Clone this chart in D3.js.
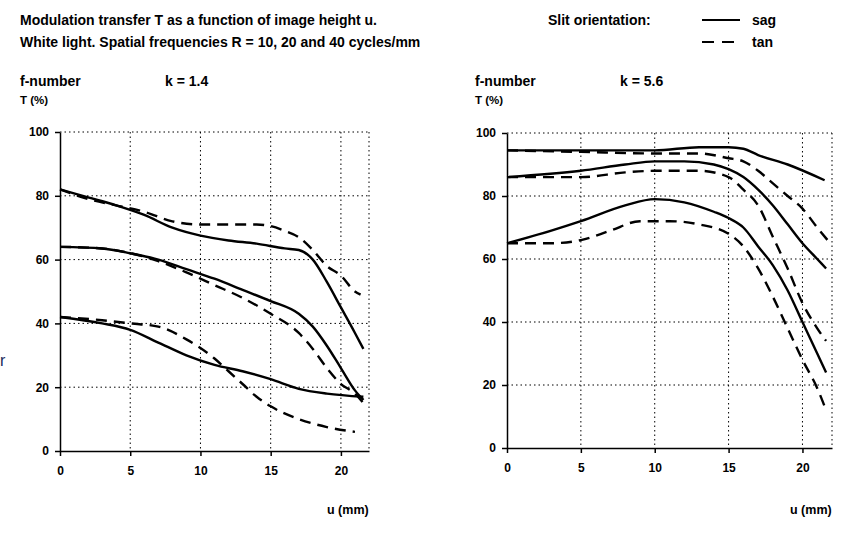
<!DOCTYPE html>
<html><head><meta charset="utf-8">
<script src="https://cdn.jsdelivr.net/npm/d3@7"></script>
<style>
body{margin:0;background:#fff;font-family:Arial,"Liberation Sans",sans-serif;}
text{font-family:Arial,"Liberation Sans",sans-serif;font-weight:bold;fill:#000;}
</style></head><body>
<script>
// u (mm) sample positions and T (%) values
const xTicks = [0, 5, 10, 15, 20];
const yTicks = [0, 20, 40, 60, 80, 100];

const k14 = {
  sag10: [[0,82],[2,79.5],[4,77],[6,74],[8,70],[10,67.5],[12,66],[14,65],[16,63.5],[17,63],[18,60],[19,53],[20,45],[21,37],[21.6,32]],
  tan10: [[0,82],[2,79],[4,77],[6,75],[8,72],[10,71],[12,71],[14,71],[15,70.5],[16,69],[17,67],[18,63],[19,58],[20,55],[21,50],[21.4,49]],
  sag20: [[0,64],[3,63.5],[5,62],[7,60],[9,57],[11,54],[13,50.5],[15,47],[17,43],[18,39],[19,33],[20,26],[21,19],[21.6,16]],
  tan20: [[0,64],[3,63.5],[5,62],[7,59.5],[9,56],[11,52],[13,48],[15,43],[17,37],[18,32],[19,26],[20,21],[21,18],[21.6,15]],
  sag40: [[0,42],[3,40],[5,38],[7,34],[9,30],[11,27],[13,25],[15,22.5],[17,19.5],[19,18],[21.6,17]],
  tan40: [[0,42],[3,41],[5,40],[7,39],[9,35],[11,29],[12,25],[13,21],[14,17],[15,14],[17,10],[19,7.5],[21,6]]
};
const k56 = {
  sag10: [[0,94.5],[5,94.5],[10,94.5],[13,95.5],[15,95.5],[16,95],[17,93],[19,90],[21.5,85]],
  tan10: [[0,94.5],[5,94],[10,93.5],[13,93.5],[15,92],[16,91],[17,88],[18,84],[19,80],[20,76],[21,70],[21.7,66]],
  sag20: [[0,86],[5,88],[8,90],[10,91],[12,91],[14,90],[15,88.5],[16,86],[17,82],[18,77],[19,71],[20,65],[21,60],[21.6,57]],
  tan20: [[0,86],[5,86],[8,87.5],[10,88],[13,88],[15,86],[16,82],[17,77],[18,67],[19,57],[20,46],[21,38],[21.6,34]],
  sag40: [[0,65],[3,69],[5,72],[8,77],[10,79],[12,78],[14,75],[15,73],[16,70],[17,64],[18,58],[19,50],[20,40],[21,30],[21.6,24]],
  tan40: [[0,65],[3,65],[5,66],[7,69],[9,72],[11,72],[13,71],[15,68],[16,64],[17,57],[18,48],[19,38],[20,28],[21,19],[21.6,12]]
};

const svg = d3.select("body").append("svg").attr("width", 852).attr("height", 538);

// header
svg.append("text").attr("x", 20).attr("y", 25).attr("font-size", 14).text("Modulation transfer T as a function of image height u.");
svg.append("text").attr("x", 20).attr("y", 47).attr("font-size", 14).text("White light. Spatial frequencies R = 10, 20 and 40 cycles/mm");
svg.append("text").attr("x", 548).attr("y", 25).attr("font-size", 14).text("Slit orientation:");
svg.append("line").attr("x1", 702).attr("x2", 740).attr("y1", 20).attr("y2", 20).attr("stroke", "#000").attr("stroke-width", 2);
svg.append("line").attr("x1", 702).attr("x2", 740).attr("y1", 42).attr("y2", 42).attr("stroke", "#000").attr("stroke-width", 2).attr("stroke-dasharray", "12,8");
svg.append("text").attr("x", 752).attr("y", 25).attr("font-size", 14).text("sag");
svg.append("text").attr("x", 752).attr("y", 47).attr("font-size", 14).text("tan");
svg.append("text").attr("x", 0).attr("y", 366).attr("font-size", 16).style("font-weight", "normal").style("fill", "#1a2a5a").text("r");

function panel(data, ox, left, right, top, bottom, kLabel, kx) {
  const x = d3.scaleLinear().domain([0, 22]).range([left, right]);
  const y = d3.scaleLinear().domain([0, 100]).range([bottom, top]);
  const g = svg.append("g");

  g.append("text").attr("x", ox).attr("y", 86).attr("font-size", 14).text("f-number");
  g.append("text").attr("x", kx).attr("y", 86).attr("font-size", 14).text(kLabel);
  g.append("text").attr("x", ox).attr("y", 104).attr("font-size", 11.5).text("T (%)");
  g.append("text").attr("x", right - 42).attr("y", 514).attr("font-size", 12.5).text("u (mm)");

  // dotted grid
  g.selectAll(".gx").data(xTicks.filter(d => d > 0).concat([22])).enter().append("line")
    .attr("x1", d => x(d)).attr("x2", d => x(d)).attr("y1", top).attr("y2", bottom)
    .attr("stroke", "#000").attr("stroke-width", 1).attr("stroke-dasharray", "1.5,3");
  g.selectAll(".gy").data(yTicks.filter(d => d > 0)).enter().append("line")
    .attr("x1", left).attr("x2", right).attr("y1", d => y(d)).attr("y2", d => y(d))
    .attr("stroke", "#000").attr("stroke-width", 1).attr("stroke-dasharray", "1.5,3");

  const ax = g.append("g").attr("transform", `translate(0,${bottom})`)
    .call(d3.axisBottom(x).tickValues(xTicks).tickSize(5).tickPadding(10).tickSizeOuter(0));
  const ay = g.append("g").attr("transform", `translate(${left},0)`)
    .call(d3.axisLeft(y).tickValues(yTicks).tickSize(5).tickPadding(6).tickSizeOuter(0));
  [ax, ay].forEach(a => {
    a.selectAll("path,line").attr("stroke", "#000").attr("stroke-width", 1.5);
    a.selectAll("text").attr("font-size", 12).style("font-family", "Arial,'Liberation Sans',sans-serif").style("font-weight", "bold");
  });

  const line = d3.line().x(d => x(d[0])).y(d => y(d[1])).curve(d3.curveMonotoneX);
  Object.keys(data).forEach(key => {
    g.append("path").attr("d", line(data[key])).attr("fill", "none")
      .attr("stroke", "#000").attr("stroke-width", 2.4)
      .attr("stroke-dasharray", key.startsWith("tan") ? "11,7" : null);
  });
}

panel(k14, 20, 60, 369, 132, 451, "k = 1.4", 165);
panel(k56, 475, 507, 832, 133, 448, "k = 5.6", 620);
</script>
</body></html>
